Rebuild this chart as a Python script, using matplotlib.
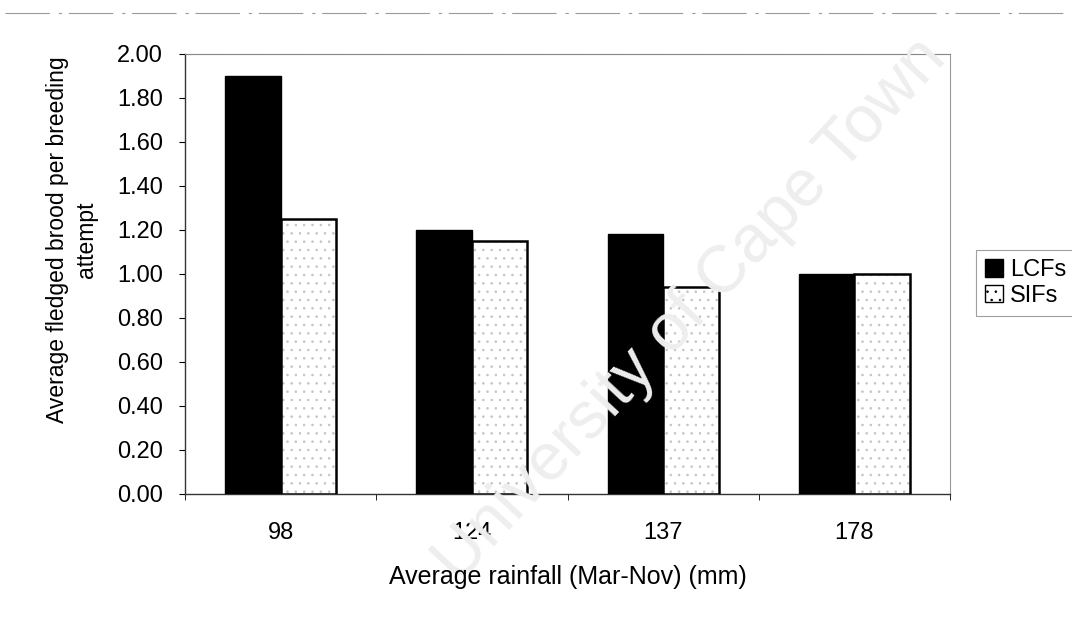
import matplotlib
matplotlib.use("Agg")
import matplotlib.pyplot as plt
import numpy as np
from matplotlib.patches import Patch

categories = ["98", "124", "137", "178"]
lcf_values = [1.90, 1.20, 1.18, 1.00]
sif_values = [1.25, 1.15, 0.94, 1.00]
y_ticks = [0.0, 0.2, 0.4, 0.6, 0.8, 1.0, 1.2, 1.4, 1.6, 1.8, 2.0]

plt.rcParams['font.family'] = ['Liberation Sans', 'DejaVu Sans']
plt.rcParams['hatch.linewidth'] = 0.6

fig = plt.figure(figsize=(10.72, 6.22), dpi=100)
ax = fig.add_axes([185/1072, 1-494/622, (950-185)/1072, (494-54)/622])

# watermark (very faint, behind everything)
fig.text(0.645, 0.5, "University of Cape Town", fontsize=48, color='#eeeeee',
         rotation=47, ha='center', va='center', zorder=0)
ax.set_facecolor('none')

x = np.arange(len(categories))
w = 0.29
ax.bar(x - w/2, lcf_values, width=w, color='black', edgecolor='black', linewidth=1, zorder=3)
ax.bar(x + w/2, sif_values, width=w, color='white', edgecolor='#c4c4c4', hatch='..', linewidth=0, zorder=3)
ax.bar(x + w/2, sif_values, width=w, color='none', edgecolor='black', linewidth=1.8, zorder=4)

ax.set_xlim(-0.5, len(categories) - 0.5)
ax.set_ylim(0, 2.0)
ax.set_yticks(y_ticks)
ax.set_yticklabels([f"{v:.2f}" for v in y_ticks], fontsize=17)
ax.set_xticks(x)
ax.set_xticklabels(categories, fontsize=17)
ax.tick_params(axis='x', length=0, pad=20)
ax.set_xticks(np.arange(-0.5, len(categories), 1.0), minor=True)
ax.tick_params(axis='x', which='minor', length=4, direction='out')
ax.tick_params(axis='y', length=4, direction='out', pad=12)

for s in ['left', 'bottom']:
    ax.spines[s].set_linewidth(1.0)
    ax.spines[s].set_color('#333333')
ax.spines['top'].set_color('#888888')
ax.spines['top'].set_linestyle((0, (1, 0.5)))
ax.spines['right'].set_color('#999999')
ax.spines['right'].set_linewidth(0.8)

fig.text(568/1072, 1-577/622, "Average rainfall (Mar-Nov) (mm)", fontsize=18,
         ha='center', va='center')
fig.text(72/1072, 1-240/622, "Average fledged brood per breeding\nattempt", fontsize=16.5,
         rotation=90, ha='center', va='center', multialignment='center', linespacing=1.3)

handles = [Patch(facecolor='black', edgecolor='black', label='LCFs'),
           Patch(facecolor='white', edgecolor='black', hatch='..', label='SIFs')]
leg = fig.legend(handles=handles, loc='center left', bbox_to_anchor=(976/1072, 1-283/622),
                 fontsize=17, frameon=True, fancybox=False, edgecolor='#888888',
                 handlelength=0.75, handleheight=0.75, handletextpad=0.3,
                 borderpad=0.4, labelspacing=0.15, borderaxespad=0)
leg.get_frame().set_linewidth(0.8)

# scan border dashes at top
fig.add_artist(plt.Line2D([0.005, 0.995], [1-13/622, 1-13/622], color='#9a9a9a',
                          linewidth=0.8, linestyle=(0, (40, 8, 3, 6))))

fig.savefig("out.png", dpi=100)
